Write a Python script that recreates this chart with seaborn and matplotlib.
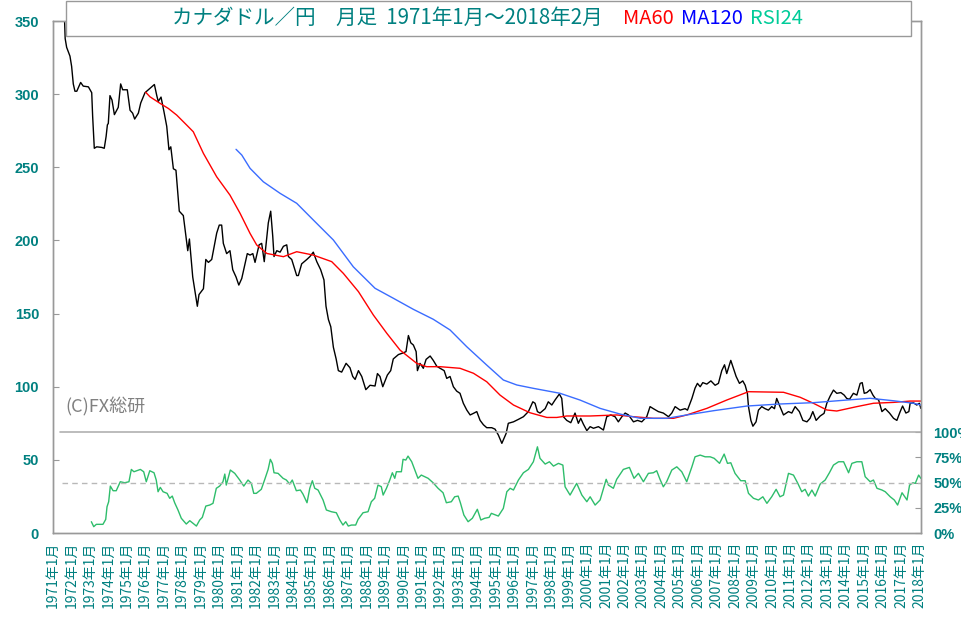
import matplotlib
matplotlib.use("Agg")
import matplotlib.pyplot as plt
from matplotlib.patches import Rectangle
import seaborn as sns

# ---------------------------------------------------------------
# data (x = decimal year, monthly bars)
# ---------------------------------------------------------------
price_t = [
    1971.00, 1971.30, 1971.54, 1971.62, 1971.66, 1971.74, 1971.92, 1972.01, 1972.10, 1972.19,
    1972.29, 1972.50, 1972.64, 1972.92, 1973.10, 1973.15, 1973.24, 1973.37, 1973.64, 1973.78,
    1973.88, 1973.95, 1974.00, 1974.09, 1974.20, 1974.33, 1974.54, 1974.67, 1974.78, 1975.03,
    1975.18, 1975.32, 1975.43, 1975.63, 1975.76, 1975.99, 1976.26, 1976.50, 1976.63, 1976.71,
    1976.86, 1977.02, 1977.17, 1977.29, 1977.39, 1977.53, 1977.67, 1977.85, 1978.07, 1978.31,
    1978.40, 1978.58, 1978.74, 1978.83, 1978.92, 1979.16, 1979.29, 1979.43, 1979.61, 1979.88,
    1980.02, 1980.15, 1980.24, 1980.42, 1980.60, 1980.75, 1980.93, 1981.08, 1981.24, 1981.38,
    1981.54, 1981.69, 1981.84, 1981.96, 1982.18, 1982.32, 1982.46, 1982.68, 1982.81, 1982.92,
    1982.99, 1983.14, 1983.32, 1983.50, 1983.68, 1983.77, 1983.95, 1984.22, 1984.31, 1984.49,
    1984.77, 1984.94, 1985.12, 1985.31, 1985.52, 1985.70, 1985.81, 1985.94, 1986.07, 1986.21,
    1986.36, 1986.48, 1986.66, 1986.90, 1987.11, 1987.26, 1987.39, 1987.57, 1987.75, 1987.97,
    1988.20, 1988.47, 1988.60, 1988.74, 1988.89, 1989.14, 1989.32, 1989.46, 1989.74, 1989.97,
    1990.15, 1990.28, 1990.41, 1990.55, 1990.70, 1990.77, 1990.91, 1991.09, 1991.24, 1991.46,
    1991.63, 1991.82, 1992.00, 1992.22, 1992.36, 1992.54, 1992.72, 1992.90, 1993.08, 1993.26,
    1993.45, 1993.63, 1993.81, 1993.99, 1994.17, 1994.35, 1994.53, 1994.80, 1994.98, 1995.16,
    1995.35, 1995.58, 1995.70, 1995.98, 1996.25, 1996.52, 1996.79, 1997.03, 1997.15, 1997.28,
    1997.42, 1997.70, 1997.87, 1998.06, 1998.24, 1998.47, 1998.60, 1998.69, 1998.87, 1999.09,
    1999.32, 1999.50, 1999.63, 1999.77, 1999.96, 2000.14, 2000.32, 2000.59, 2000.86, 2001.04,
    2001.26, 2001.49, 2001.67, 2001.86, 2002.04, 2002.22, 2002.49, 2002.71, 2002.94, 2003.21,
    2003.39, 2003.57, 2003.84, 2004.11, 2004.39, 2004.57, 2004.75, 2005.02, 2005.29, 2005.42,
    2005.66, 2005.83, 2005.96, 2006.11, 2006.25, 2006.47, 2006.69, 2006.92, 2007.10, 2007.28,
    2007.43, 2007.55, 2007.77, 2007.91, 2008.06, 2008.24, 2008.42, 2008.55, 2008.67, 2008.73,
    2008.86, 2008.97, 2009.14, 2009.27, 2009.45, 2009.63, 2009.81, 2009.99, 2010.14, 2010.26,
    2010.44, 2010.63, 2010.90, 2011.08, 2011.26, 2011.49, 2011.68, 2011.90, 2012.07, 2012.22,
    2012.40, 2012.62, 2012.83, 2012.98, 2013.16, 2013.34, 2013.52, 2013.74, 2013.92, 2014.06,
    2014.21, 2014.42, 2014.61, 2014.79, 2014.90, 2015.01, 2015.15, 2015.33, 2015.48, 2015.61,
    2015.79, 2015.97, 2016.15, 2016.38, 2016.60, 2016.78, 2016.96, 2017.09, 2017.27, 2017.43,
    2017.50, 2017.68, 2017.86, 2018.00, 2018.08,
]
price_v = [
    357, 357, 356, 353, 338, 332, 326, 319, 307, 302,
    302, 308, 305.5, 305, 301, 285, 263, 264, 263.6, 263,
    271, 279, 280, 299, 296, 286, 291, 307, 303, 303,
    289, 287, 283, 287, 294, 301, 304, 306.6, 299, 295,
    298, 288, 278, 262, 264, 249, 248, 220, 217, 193,
    201, 175, 162, 155, 163, 167, 187, 185, 187, 205,
    210.5, 210.5, 198, 191, 193, 180, 175, 169.5, 174, 182,
    191, 190, 191, 185, 197, 198, 185.5, 212, 220, 203,
    189, 193, 192, 196, 197, 189, 187, 176, 176, 184,
    187, 189, 192, 185.5, 180, 173, 155, 146, 141, 127,
    119, 111, 110, 116, 113, 107, 105, 111, 107, 98,
    101, 100.5, 109, 107, 100, 108, 111, 119, 122, 123,
    124, 135, 130, 128.5, 124, 111, 116, 112.6, 118.7, 121,
    118, 114, 112.6, 111, 105.7, 107, 100, 97, 95.5, 88.7,
    84, 80.7, 81.8, 83, 77, 74, 72, 72, 71, 67,
    61.3, 68, 75, 76, 77.7, 79.5, 83, 89.7, 88.7, 83,
    82, 85, 89.7, 87.5, 91, 95, 92, 79.5, 77, 75.4,
    82, 75, 78.4, 74.5, 70, 72.7, 71.6, 72.7, 70.4, 79.5,
    80.7, 79.5, 76, 79.5, 82, 80.7, 76, 77, 76, 79.5,
    86.4, 85, 83, 82, 79.5, 82, 86.4, 84, 85, 84,
    92, 99, 102.3, 100, 102.8, 101.8, 104, 101, 102.3, 111,
    115, 109, 118, 112.6, 107, 102.3, 104, 101, 95.5, 86.4,
    77, 73, 76, 84, 86.4, 85, 84, 86.4, 85, 92,
    86.4, 80.7, 83, 82, 86.4, 83, 77, 76, 78.4, 83,
    77, 80, 81.8, 88.7, 93.6, 97.7, 95.5, 96, 94.3, 92,
    91.4, 95.5, 94.3, 102.3, 102.8, 95.5, 96, 98, 94.3, 92,
    91, 83, 85, 82, 78.4, 77, 83, 86.8, 82, 83,
    88.7, 89, 87.5, 88.7, 85.2,
]

ma60_t = [
    1976.03, 1976.26, 1976.81, 1977.26, 1977.71, 1978.25, 1978.61, 1979.16, 1979.88, 1980.60,
    1981.15, 1981.69, 1982.05, 1982.60, 1983.50, 1984.22, 1985.12, 1986.12, 1986.75, 1987.57,
    1988.38, 1989.11, 1989.83, 1990.73, 1991.27, 1992.00, 1993.08, 1993.81, 1994.53, 1995.25,
    1995.98, 1996.88, 1997.79, 1998.33, 1998.87, 2000.14, 2001.58, 2002.49, 2003.57, 2004.66,
    2005.38, 2006.47, 2007.55, 2008.73, 2010.63, 2011.53, 2012.25, 2012.98, 2013.52, 2014.61,
    2015.51, 2016.60, 2017.50, 2018.08,
]
ma60_v = [
    301.3, 298.2, 293.7, 290.2, 285.7, 278.9, 274.3, 259.5, 243.5, 231,
    218.5, 204.8, 196.9, 191.1, 188.9, 192.3, 190, 185.5, 177.5, 165,
    149, 136.5, 125, 116, 113.7, 113.7, 112.6, 109.2, 103.4, 94.3,
    87.5, 82.2, 79, 79, 80, 80, 80.7, 79.5, 78.4, 78.4,
    80.7, 85.2, 90.9, 96.6, 96.2, 92.8, 88.7, 84.1, 83.4, 86.4,
    88.7, 89.3, 90.2, 90.2,
]

ma120_t = [
    1980.93, 1981.24, 1981.69, 1982.41, 1983.32, 1984.22, 1985.12, 1986.21, 1987.29, 1988.47,
    1989.46, 1990.55, 1991.63, 1992.54, 1993.45, 1994.53, 1995.43, 1996.16, 1997.06, 1998.51,
    1999.59, 2000.68, 2001.77, 2002.86, 2004.30, 2005.38, 2006.83, 2008.64, 2010.44, 2012.25,
    2014.06, 2015.33, 2016.60, 2017.68, 2018.08,
]
ma120_v = [
    262.3, 258.4, 249.3, 240.1, 232.2, 225.4, 214, 200.3, 182, 167.3,
    160.5, 152.9, 146.1, 138.8, 127.3, 114.8, 104.6, 101.2, 98.9, 95.5,
    90.9, 85.2, 81.3, 78.4, 78.4, 80.7, 83.6, 86.8, 88.2, 89.1,
    90.9, 92.1, 90.4, 88.7, 87.5,
]

rsi_t = [
    1973.08, 1973.21, 1973.35, 1973.71, 1973.86, 1973.93, 1974.02, 1974.11, 1974.26, 1974.43,
    1974.65, 1974.89, 1975.12, 1975.25, 1975.39, 1975.74, 1975.92, 1976.06, 1976.25, 1976.48,
    1976.60, 1976.70, 1976.82, 1976.97, 1977.19, 1977.33, 1977.47, 1977.60, 1977.78, 1977.96,
    1978.23, 1978.42, 1978.60, 1978.78, 1978.96, 1979.10, 1979.29, 1979.50, 1979.68, 1979.86,
    1980.04, 1980.22, 1980.32, 1980.40, 1980.62, 1980.86, 1981.13, 1981.35, 1981.58, 1981.76,
    1981.89, 1982.03, 1982.30, 1982.49, 1982.67, 1982.79, 1982.90, 1982.99, 1983.21, 1983.48,
    1983.66, 1983.84, 1983.98, 1984.20, 1984.42, 1984.56, 1984.78, 1984.93, 1985.07, 1985.20,
    1985.38, 1985.65, 1985.83, 1986.10, 1986.37, 1986.56, 1986.73, 1986.88, 1987.02, 1987.19,
    1987.42, 1987.55, 1987.82, 1988.09, 1988.27, 1988.45, 1988.63, 1988.81, 1988.91, 1989.09,
    1989.27, 1989.41, 1989.54, 1989.63, 1989.90, 1989.99, 1990.14, 1990.26, 1990.46, 1990.62,
    1990.80, 1990.98, 1991.17, 1991.35, 1991.62, 1991.89, 1992.16, 1992.34, 1992.61, 1992.79,
    1992.98, 1993.10, 1993.29, 1993.52, 1993.75, 1994.02, 1994.21, 1994.42, 1994.66, 1994.78,
    1995.16, 1995.43, 1995.62, 1995.80, 1995.98, 1996.25, 1996.52, 1996.79, 1997.06, 1997.28,
    1997.42, 1997.70, 1997.93, 1998.15, 1998.42, 1998.66, 1998.78, 1999.05, 1999.41, 1999.69,
    1999.96, 2000.14, 2000.41, 2000.68, 2001.01, 2001.13, 2001.40, 2001.58, 2001.94, 2002.27,
    2002.52, 2002.76, 2003.03, 2003.30, 2003.57, 2003.75, 2003.93, 2004.11, 2004.29, 2004.57,
    2004.84, 2005.11, 2005.38, 2005.66, 2005.83, 2006.11, 2006.38, 2006.65, 2006.87, 2007.16,
    2007.41, 2007.59, 2007.77, 2008.00, 2008.31, 2008.55, 2008.73, 2009.00, 2009.27, 2009.51,
    2009.73, 2009.99, 2010.23, 2010.44, 2010.63, 2010.90, 2011.17, 2011.39, 2011.62, 2011.80,
    2011.98, 2012.17, 2012.35, 2012.62, 2012.89, 2013.12, 2013.34, 2013.62, 2013.89, 2014.16,
    2014.34, 2014.61, 2014.88, 2015.06, 2015.33, 2015.51, 2015.70, 2015.97, 2016.15, 2016.42,
    2016.64, 2016.82, 2017.06, 2017.33, 2017.47, 2017.65, 2017.78, 2017.96, 2018.08,
]
rsi_v = [
    11.2, 6.3, 8.6, 8.6, 13.5, 26, 31, 46.5, 41.9, 41.9,
    50.8, 49.8, 50.8, 63, 60.7, 63, 60.7, 50.8, 61.7, 59.7,
    52.5, 40.9, 45.2, 40.9, 39.3, 34.4, 36.6, 30, 22.8, 14.6,
    8.9, 12.2, 9.6, 6.9, 12.9, 15.5, 26.7, 27.7, 29.4, 44.3,
    46.5, 50.8, 58.4, 47.5, 62.4, 59.1, 52.5, 46.5, 52.5, 49.2,
    39.3, 39.3, 43.3, 53.2, 63, 73, 69, 59.7, 59.1, 54.2,
    52.5, 48.5, 52.5, 41.9, 42.6, 38.6, 30, 44.3, 51.8, 44.3,
    42.6, 32.7, 22.8, 21.1, 20.1, 12.9, 7.9, 11.2, 6.9, 7.9,
    7.9, 13.5, 20.1, 21.1, 31, 34.4, 47.5, 45.9, 37.6, 44.3,
    52.5, 59.7, 54.2, 60.7, 60.7, 73, 72.3, 76.2, 70.6, 63,
    54.2, 57.4, 55.8, 54.2, 49.8, 44.3, 39.9, 30, 31, 35.9,
    36.6, 30, 17.8, 11.2, 14.6, 23.5, 12.9, 14.6, 15.5, 19.5,
    16.8, 24.4, 40.9, 44.3, 42.6, 52.5, 59.7, 63, 70.6, 85.4,
    74, 68.3, 70.6, 66.3, 69, 67.3, 45.8, 37.6, 49.2, 37.6,
    31, 35.9, 27.7, 32.7, 53.2, 47.5, 44.3, 53.2, 63, 65,
    54.2, 59.1, 50.8, 59.1, 59.7, 61.7, 53.2, 45.8, 50.8, 62.4,
    65.6, 60.7, 50.8, 65.6, 75.5, 77.2, 75.5, 75.5, 74, 69,
    78.2, 69, 69.6, 59.1, 51.8, 51.8, 39.3, 34.4, 32.7, 35.9,
    29.4, 35.9, 43.3, 35.9, 37.6, 59.1, 57.4, 49.8, 40.9, 43.3,
    36.6, 42.6, 36.6, 48.5, 52.5, 59.7, 67.3, 70.6, 70.6, 59.7,
    69, 70.6, 70.6, 55.8, 50.8, 52.5, 44.3, 42.6, 40.9, 35.9,
    32.7, 27.7, 39.9, 32.7, 47.5, 49.8, 49.2, 57.4, 54.2,
]

years = list(range(1971, 2019))
price_ticks = [0, 50, 100, 150, 200, 250, 300, 350]
rsi_ticks = [0, 25, 50, 75, 100]

TEAL = "#008080"
GREY = "#999999"

sns.set_style("white")
plt.rcParams["font.family"] = ["Noto Sans CJK JP", "DejaVu Sans"]

fig = plt.figure(figsize=(9.62, 6.2), dpi=100)
ax = fig.add_axes([0.0551, 0.1403, 0.9023, 0.8258])
ax2 = ax.twinx()

# price + moving averages
sns.lineplot(x=price_t, y=price_v, ax=ax, color="black", lw=1.0)
sns.lineplot(x=ma60_t, y=ma60_v, ax=ax, color="#ff0000", lw=1.0)
sns.lineplot(x=ma120_t, y=ma120_v, ax=ax, color="#3a6cff", lw=1.0)

# RSI on its own scale (100% sits at about 69 on the price scale)
sns.lineplot(x=rsi_t, y=rsi_v, ax=ax2, color="#2ebd6b", lw=1.0)
ax2.axhline(100, xmin=0.008, color="#b0b0b0", lw=1.2)
ax2.axhline(50, xmin=0.01, color="#b8b8b8", lw=1.0, ls=(0, (4, 3)))

ax.set_xlim(1971.0, 2018.09)
ax.set_ylim(0, 350)
ax2.set_ylim(0, 100 * 350 / 69)

ax.set_xticks(years)
ax.set_xticklabels([f"{y}年1月" for y in years], rotation=90,
                   color=TEAL, fontsize=10)
ax.set_yticks(price_ticks)
ax.set_yticklabels([str(v) for v in price_ticks], color=TEAL,
                   fontsize=10.5, fontweight="bold", family="Liberation Sans")
ax2.set_yticks(rsi_ticks)
ax2.set_yticklabels([f"{v}%" for v in rsi_ticks], color=TEAL,
                    fontsize=10.5, fontweight="bold", family="Liberation Sans")

ax.tick_params(axis="x", direction="in", length=3, color=GREY, pad=6)
ax.tick_params(axis="y", direction="in", length=4, color=GREY, pad=10)
ax2.tick_params(axis="y", direction="in", length=4, color=GREY, pad=9)
ax.set_xlabel("")
ax.set_ylabel("")
ax2.set_ylabel("")

for a in (ax, ax2):
    for s in a.spines.values():
        s.set_color(GREY)
        s.set_linewidth(1.0)

ax.text(0.014, 0.246, "(C)FX総研", transform=ax.transAxes,
        color="#808080", fontsize=13, va="center", ha="left")

# title box over the top of the plot
fig.add_artist(Rectangle((66 / 962, 1 - 36 / 620), 845 / 962, 35 / 620,
                         transform=fig.transFigure, facecolor="white",
                         edgecolor=GREY, lw=1.0, zorder=5))
ty = 1 - 18 / 620
fig.text(172 / 962, ty, "カナダドル／円　月足  1971年1月～2018年2月",
         color=TEAL, fontsize=14.8, va="center", ha="left", zorder=6)
fig.text(623 / 962, ty, "MA60", color="#ff0000", fontsize=14.5,
         va="center", ha="left", zorder=6)
fig.text(681 / 962, ty, "MA120", color="#0000ff", fontsize=14.5,
         va="center", ha="left", zorder=6)
fig.text(750 / 962, ty, "RSI24", color="#00cc99", fontsize=14.5,
         va="center", ha="left", zorder=6)

fig.savefig("out.png", dpi=100)
